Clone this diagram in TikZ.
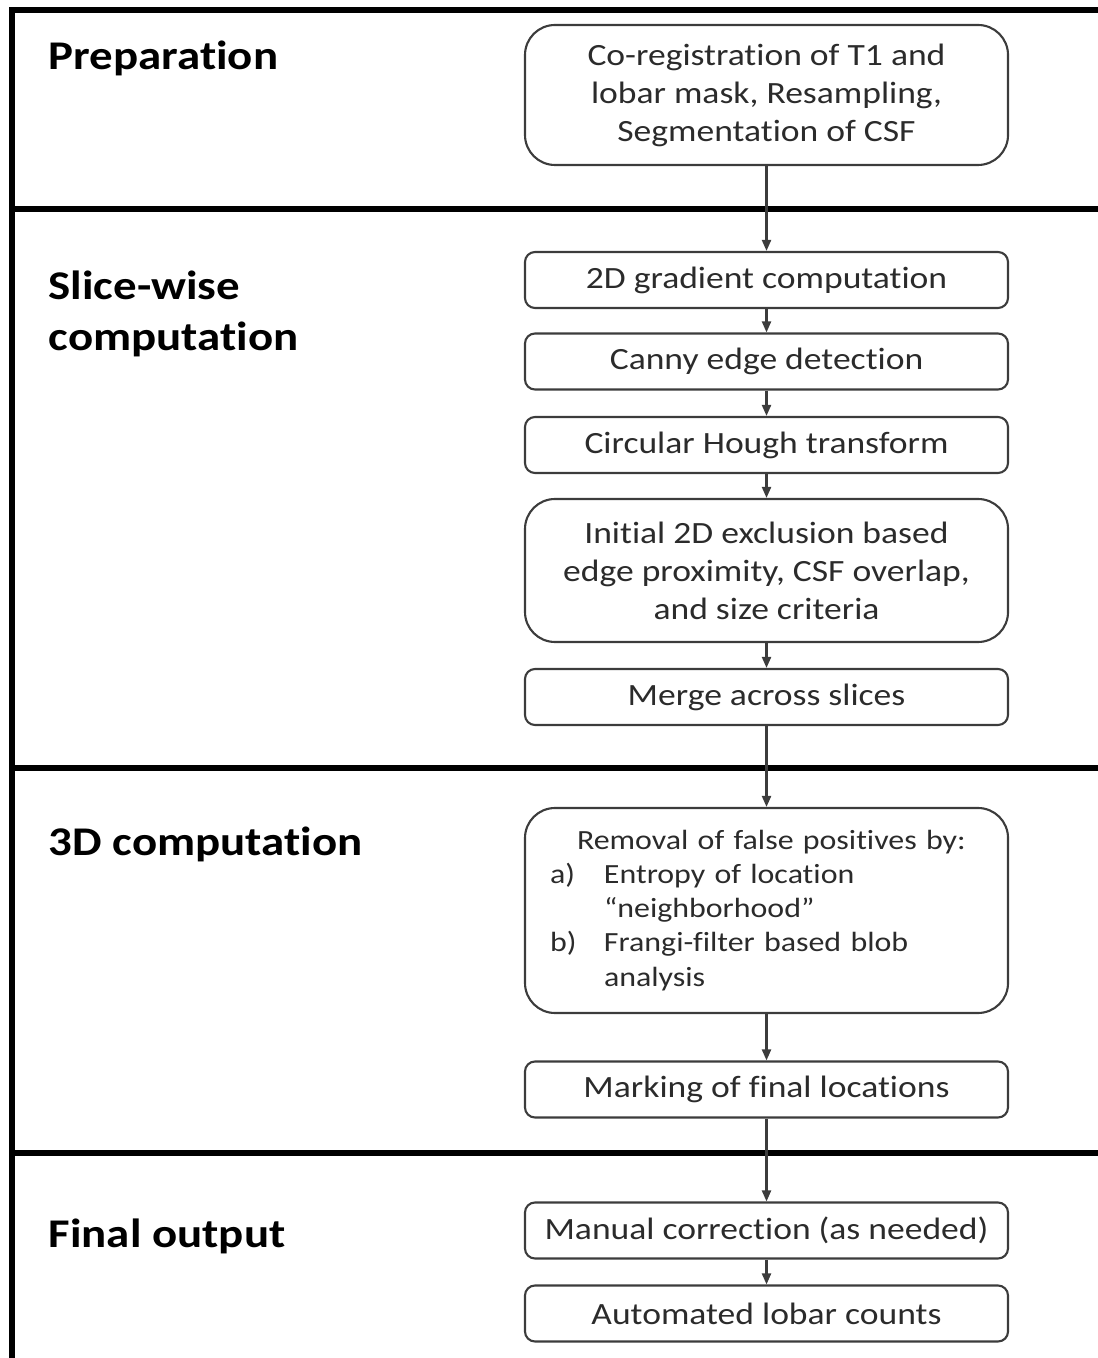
\documentclass[tikz,border=0pt]{standalone}
\usepackage{fontspec}
\setmainfont{Carlito}[FakeStretch=1.15, Ligatures={NoCommon}]
\definecolor{boxgray}{HTML}{3C3C3C}
\definecolor{textgray}{HTML}{2B2B2B}
\newcommand{\boxfont}{\fontsize{8.8}{10.8}\selectfont}
\newcommand{\listfont}{\fontsize{7.9}{9.7}\selectfont}
\newcommand{\headfont}{\fontsize{11.6}{14.5}\selectfont\bfseries}
\usetikzlibrary{arrows.meta, positioning}

\begin{document}
\begin{tikzpicture}[
        bigbox/.style={rectangle, rounded corners=0.3cm, draw=boxgray,
                       line width=0.6pt, minimum width=4.83cm,
                       text=textgray, font=\boxfont, align=center},
        smallbox/.style={rectangle, rounded corners=0.1cm, draw=boxgray,
                         line width=0.6pt, minimum width=4.83cm,
                         minimum height=0.56cm, inner sep=0pt,
                         text=textgray, font=\boxfont, align=center},
        heading/.style={font=\headfont, text=black, inner sep=0pt},
        frame/.style={black, line width=1.7pt},
        flow/.style={boxgray, line width=0.6pt,
                     -{Triangle[length=1.1mm, width=0.9mm]}}
      ]
        \useasboundingbox (0,0) rectangle (10.98,-13.58);
        % Frame and section dividers
        \draw[frame] (0.12,-13.58) -- (0.12,-0.10) -- (10.98,-0.10);
        \draw[frame] (0.12,-2.09)  -- (10.98,-2.09);
        \draw[frame] (0.12,-7.68)  -- (10.98,-7.68);
        \draw[frame] (0.12,-11.53) -- (10.98,-11.53);
        % Section headings
        \node[heading, anchor=base west] (hprep) at (0.48,-0.70)
          {Preparation};
        \node[heading, anchor=north west, align=left] (hslice) at (0.48,-2.70)
          {Slice-wise\\computation};
        \node[heading, anchor=base west] (h3d) at (0.48,-8.55)
          {3D computation};
        \node[heading, anchor=base west] (hfinal) at (0.48,-12.47)
          {Final output};
        % Preparation
        \node[bigbox, minimum height=1.40cm] (prep) at (7.665,-0.95)
          {Co-registration of T1 and\\lobar mask, Resampling,\\Segmentation of CSF};
        % Slice-wise computation
        \node[smallbox] (grad)  at (7.665,-2.80)  {2D gradient computation};
        \node[smallbox] (canny) at (7.665,-3.615) {Canny edge detection};
        \node[smallbox] (hough) at (7.665,-4.45)  {Circular Hough transform};
        \node[bigbox, minimum height=1.43cm] (excl) at (7.665,-5.705)
          {Initial 2D exclusion based\\edge proximity, CSF overlap,\\and size criteria};
        \node[smallbox] (merge) at (7.665,-6.97)  {Merge across slices};
        % 3D computation
        \node[bigbox, minimum height=2.05cm, text width=4.33cm,
              inner xsep=0.25cm, align=left, font=\listfont] (remove) at (7.665,-9.105)
          {\hspace*{0.27cm}Removal of false positives by:\\
           \makebox[0.54cm][l]{a)}Entropy of location\\
           \hspace*{0.54cm}“neighborhood”\\
           \makebox[0.54cm][l]{b)}Frangi-filter based blob\\
           \hspace*{0.54cm}analysis};
        \node[smallbox] (mark)  at (7.665,-10.895) {Marking of final locations};
        % Final output
        \node[smallbox] (manual) at (7.665,-12.305) {Manual correction (as needed)};
        \node[smallbox] (counts) at (7.665,-13.135) {Automated lobar counts};
        % Connections
        \draw[flow] (prep)   -- (grad);
        \draw[flow] (grad)   -- (canny);
        \draw[flow] (canny)  -- (hough);
        \draw[flow] (hough)  -- (excl);
        \draw[flow] (excl)   -- (merge);
        \draw[flow] (merge)  -- (remove);
        \draw[flow] (remove) -- (mark);
        \draw[flow] (mark)   -- (manual);
        \draw[flow] (manual) -- (counts);
      \end{tikzpicture}
\end{document}
